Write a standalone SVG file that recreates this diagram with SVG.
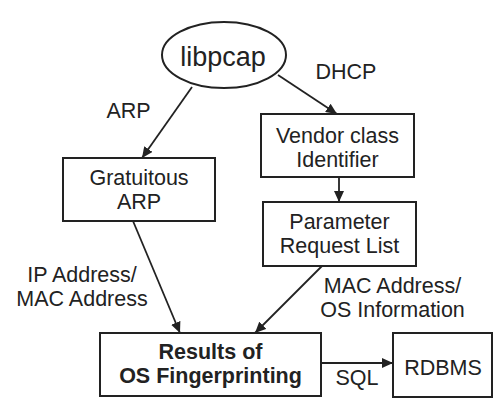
<svg xmlns="http://www.w3.org/2000/svg" width="502" height="417" viewBox="0 0 502 417">
<style>
.box{fill:#fff;stroke:#222;stroke-width:2}
.t{font-family:"Liberation Sans",Arial,sans-serif;font-size:21.5px;fill:#222;text-anchor:middle}
.b{font-weight:bold}
.c{stroke:#222;stroke-width:1.8;fill:none;marker-end:url(#ah)}
</style>
<defs>
<marker id="ah" markerUnits="userSpaceOnUse" markerWidth="11" markerHeight="10" refX="11" refY="5" orient="auto">
<path d="M0,0 L11,5 L0,10 z" fill="#222"/>
</marker>
</defs>
<rect width="502" height="417" fill="#fff"/>
<g id="connectors">
<line class="c" x1="192" y1="87" x2="142" y2="158"/>
<line class="c" x1="278" y1="75" x2="337" y2="114"/>
<line class="c" x1="339" y1="177" x2="339" y2="202"/>
<line class="c" x1="133" y1="221" x2="180" y2="333"/>
<line class="c" x1="322" y1="266" x2="255" y2="333"/>
<line class="c" x1="321" y1="363" x2="393" y2="363"/>
<text class="t" x="128.5" y="118">ARP</text>
<text class="t" x="346" y="79">DHCP</text>
<text class="t" x="82" y="281.5">IP Address/</text>
<text class="t" x="82" y="305.5">MAC Address</text>
<text class="t" x="392.5" y="293">MAC Address/</text>
<text class="t" x="392.5" y="317">OS Information</text>
<text class="t" x="357" y="385">SQL</text>
</g>
<g id="libpcap">
<ellipse class="box" cx="224" cy="55" rx="62" ry="33"/>
<text class="t" x="223" y="66" style="font-size:27px">libpcap</text>
</g>
<g id="gratuitous">
<rect class="box" x="63" y="158" width="152" height="63"/>
<text class="t" x="139" y="184.5">Gratuitous</text>
<text class="t" x="139" y="208.5">ARP</text>
</g>
<g id="vendor">
<rect class="box" x="261" y="114" width="153" height="63"/>
<text class="t" x="337.5" y="142.5">Vendor class</text>
<text class="t" x="337.5" y="166.5">Identifier</text>
</g>
<g id="param">
<rect class="box" x="263" y="202" width="153" height="64"/>
<text class="t" x="339.5" y="228.5">Parameter</text>
<text class="t" x="339.5" y="252.5">Request List</text>
</g>
<g id="results">
<rect class="box" x="100" y="333" width="221" height="63"/>
<text class="t b" x="210.5" y="358.5">Results of</text>
<text class="t b" x="210.5" y="382.5">OS Fingerprinting</text>
</g>
<g id="rdbms">
<rect class="box" x="393" y="333" width="99" height="64"/>
<text class="t" x="443" y="375">RDBMS</text>
</g>
</svg>
